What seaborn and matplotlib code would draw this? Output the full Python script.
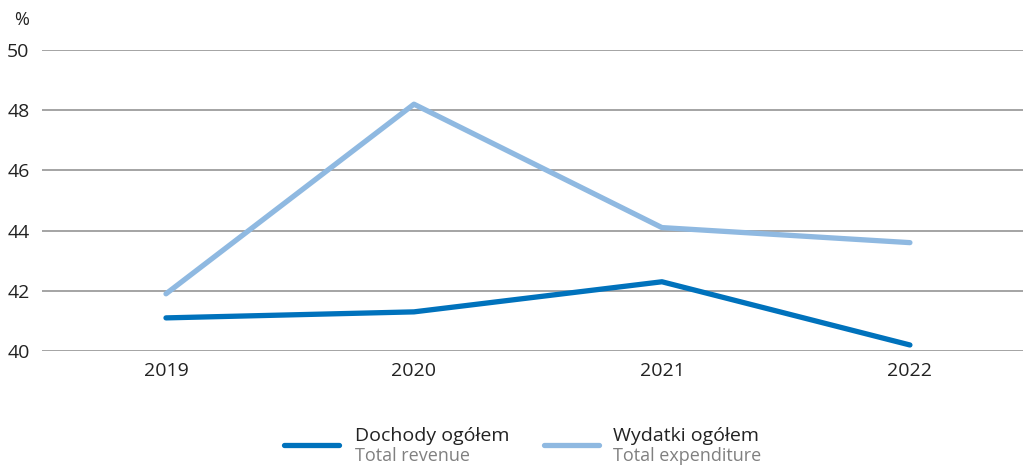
"""Total revenue and expenditure, % of GDP."""
import matplotlib
matplotlib.use('Agg')
import matplotlib.pyplot as plt
from matplotlib.lines import Line2D
import pandas as pd
import seaborn as sns

years = ['2019', '2020', '2021', '2022']
revenue = [41.1, 41.3, 42.3, 40.2]
expenditure = [41.9, 48.2, 44.1, 43.6]
yticks = [40, 42, 44, 46, 48, 50]

c_rev = '#0072bc'
c_exp = '#8fb9e1'

sns.set_style('white')
plt.rcParams['font.family'] = ['Open Sans', 'DejaVu Sans']

df = pd.DataFrame({'year': years * 2,
                   'value': revenue + expenditure,
                   'series': ['rev'] * 4 + ['exp'] * 4})

W, H = 1023, 466
fig = plt.figure(figsize=(W / 100, H / 100), dpi=100)
ax = fig.add_axes([42 / W, (H - 351) / H, (W - 42) / W, 301 / H])

sns.lineplot(data=df, x='year', y='value', hue='series',
             palette={'rev': c_rev, 'exp': c_exp},
             linewidth=3.8, legend=False, ax=ax,
             solid_capstyle='round', zorder=3)

ax.set_xlim(-0.5, 3.456)
ax.set_ylim(40, 50)
ax.set_yticks(yticks)
ax.set_yticklabels([str(t) for t in yticks])
ax.yaxis.grid(True, color='#8c8c8c', linewidth=1.1)
ax.set_axisbelow(True)
for s in ax.spines.values():
    s.set_visible(False)
ax.tick_params(axis='both', length=0, labelsize=14, colors='#222222')
ax.tick_params(axis='y', pad=9)
ax.tick_params(axis='x', pad=8)
ax.set_xlabel('')
ax.set_ylabel('')

fig.text(22 / W, 1 - 20 / H, '%', fontsize=13, color='#222222',
         ha='center', va='center')

# legend
def legend_item(x0, x1, xt, color, pl, en):
    fig.add_artist(Line2D([x0 / W, x1 / W], [1 - 445 / H] * 2,
                          transform=fig.transFigure, color=color,
                          linewidth=3.8, solid_capstyle='round'))
    fig.text(xt / W, 1 - 436 / H, pl, fontsize=14, color='#222222',
             ha='left', va='center')
    fig.text(xt / W, 1 - 456 / H, en, fontsize=13, color='#808080',
             ha='left', va='center')

legend_item(284, 339, 355, c_rev, 'Dochody ogółem', 'Total revenue')
legend_item(544, 599, 613, c_exp, 'Wydatki ogółem', 'Total expenditure')

plt.savefig('out.png', dpi=100)
